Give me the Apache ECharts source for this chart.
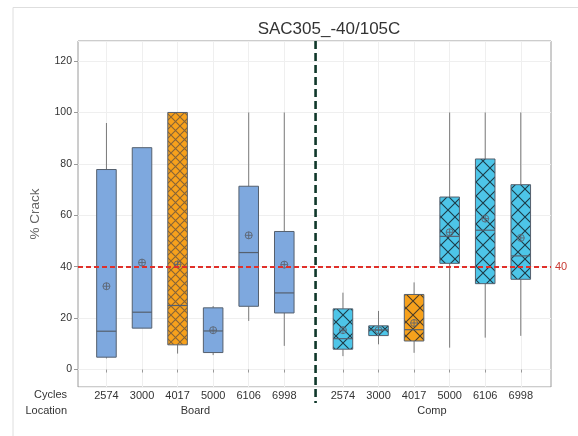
<!DOCTYPE html>
<html>
<head>
<meta charset="utf-8">
<script src="https://cdn.jsdelivr.net/npm/echarts@6/dist/echarts.min.js"></script>
<style>
  html, body { margin: 0; padding: 0; background: #fff; }
  #chart { width: 578px; height: 436px; }
</style>
</head>
<body>
<div id="chart"></div>
<script>
// values (% crack)
const cycles = ['2574', '3000', '4017', '5000', '6106', '6998'];
const locations = ['Board', 'Comp'];
const rowNames = ['Cycles', 'Location'];

const boardLow    = [4.3, 16.1, 6.2, 5.6, 18.9, 9.2];
const boardQ1     = [4.8, 16.1, 9.6, 6.6, 24.6, 22.0];
const boardMedian = [14.9, 22.3, 24.9, 15.0, 45.5, 29.8];
const boardQ3     = [77.8, 86.3, 100, 24.0, 71.3, 53.7];
const boardHigh   = [95.9, 86.3, 100, 24.7, 100, 100];
const boardMean   = [32.4, 41.6, 40.9, 15.3, 52.2, 40.8];

const compLow    = [5.2, 9.8, 6.5, 8.5, 12.4, 13.1];
const compQ1     = [7.9, 13.2, 11.1, 41.3, 33.4, 35.1];
const compMedian = [12.0, 15.4, 15.5, 51.8, 54.2, 44.2];
const compQ3     = [23.6, 17.0, 29.2, 67.1, 81.9, 71.9];
const compHigh   = [29.9, 22.8, 33.9, 100, 100, 100];
const compMean   = [15.3, 15.3, 18.1, 53.4, 58.7, 51.2];

const refLine = 40;

// x layout (axis units): board at 1..6, comp after a gap
const compStart = 7.65;
const sepX = 6.88;
const boxW = 0.55;

const boardX = cycles.map((c, i) => i + 1);
const compX = cycles.map((c, i) => compStart + i);
const allX = boardX.concat(compX);
const groupX = [(boardX[0] + boardX[5]) / 2, (compX[0] + compX[5]) / 2];

function hatch(bg, line, s) {
  const c = document.createElement('canvas');
  c.width = s; c.height = s;
  const g = c.getContext('2d');
  g.fillStyle = bg;
  g.fillRect(0, 0, s, s);
  g.strokeStyle = line;
  g.lineWidth = 1.1;
  g.beginPath();
  g.moveTo(0, 0); g.lineTo(s, s);
  g.moveTo(s, 0); g.lineTo(0, s);
  g.stroke();
  return { image: c, repeat: 'repeat' };
}

const blueFill = '#7ea8de';
const orangeBoard = hatch('#f7a11c', '#866438', 9);
const orangeComp = hatch('#f7a11c', '#4a3c28', 14);
const cyanComp = hatch('#4dc5e8', '#1d3b47', 14);

const boxes = [];
const fills = [];
cycles.forEach((c, i) => {
  boxes.push([boardX[i], boardLow[i], boardQ1[i], boardMedian[i], boardQ3[i], boardHigh[i], boardMean[i]]);
  fills.push(c === '4017' ? orangeBoard : blueFill);
});
cycles.forEach((c, i) => {
  boxes.push([compX[i], compLow[i], compQ1[i], compMedian[i], compQ3[i], compHigh[i], compMean[i]]);
  fills.push(c === '4017' ? orangeComp : cyanComp);
});

function renderBox(params, api) {
  const x = api.value(0);
  const pLo = api.coord([x, api.value(1)]);
  const pQ1 = api.coord([x, api.value(2)]);
  const pMd = api.coord([x, api.value(3)]);
  const pQ3 = api.coord([x, api.value(4)]);
  const pHi = api.coord([x, api.value(5)]);
  const pMn = api.coord([x, api.value(6)]);
  const w = api.size([boxW, 0])[0];
  const cx = pMd[0];
  const edge = '#55606e';
  const r = 3.5;
  return {
    type: 'group',
    children: [
      { type: 'line', shape: { x1: cx, y1: pLo[1], x2: cx, y2: pQ1[1] }, style: { stroke: '#7a7a7a', lineWidth: 1 } },
      { type: 'line', shape: { x1: cx, y1: pQ3[1], x2: cx, y2: pHi[1] }, style: { stroke: '#7a7a7a', lineWidth: 1 } },
      { type: 'rect', shape: { x: cx - w / 2, y: pQ3[1], width: w, height: pQ1[1] - pQ3[1] },
        style: { fill: fills[params.dataIndex], stroke: edge, lineWidth: 1 } },
      { type: 'line', shape: { x1: cx - w / 2, y1: pMd[1], x2: cx + w / 2, y2: pMd[1] }, style: { stroke: edge, lineWidth: 1.2 } },
      { type: 'circle', shape: { cx: cx, cy: pMn[1], r: r }, style: { fill: null, stroke: '#5c6470', lineWidth: 0.9 } },
      { type: 'line', shape: { x1: cx - r, y1: pMn[1], x2: cx + r, y2: pMn[1] }, style: { stroke: '#5c6470', lineWidth: 0.9 } },
      { type: 'line', shape: { x1: cx, y1: pMn[1] - r, x2: cx, y2: pMn[1] + r }, style: { stroke: '#5c6470', lineWidth: 0.9 } }
    ]
  };
}

const chart = echarts.init(document.getElementById('chart'));
const labelFont = 'Liberation Sans, Arial, sans-serif';

chart.setOption({
  animation: false,
  textStyle: { fontFamily: labelFont },
  title: {
    text: 'SAC305_-40/105C',
    left: 324,
    top: 16,
    textAlign: 'center',
    textStyle: { fontSize: 17, fontWeight: 'normal', color: '#333', fontFamily: labelFont }
  },
  graphic: [{
    type: 'rect', silent: true, z: -1,
    shape: { x: 13, y: 7.5, width: 700, height: 600 },
    style: { fill: null, stroke: '#dedede', lineWidth: 1 }
  }, {
    type: 'text', right: 578 - 67, top: 389, silent: true,
    style: { text: rowNames[0], fontSize: 11, fill: '#333', fontFamily: labelFont }
  }, {
    type: 'text', right: 578 - 67, top: 405, silent: true,
    style: { text: rowNames[1], fontSize: 11, fill: '#333', fontFamily: labelFont }
  }],
  grid: { left: 78, right: 27, top: 41, bottom: 49, show: true, borderColor: '#9a9a9a', borderWidth: 1 },
  xAxis: [{
    type: 'value', min: 0.2, max: 13.5,
    axisLine: { show: false },
    axisTick: { show: true, length: 3, customValues: allX, lineStyle: { color: '#999' } },
    axisLabel: {
      customValues: allX, fontSize: 11, color: '#333', margin: 3,
      formatter: v => cycles[allX.findIndex(p => Math.abs(p - v) < 1e-6) % 6]
    },
    splitLine: { show: true, lineStyle: { color: '#efefef', width: 1 } }
  }, {
    type: 'value', min: 0.2, max: 13.5, position: 'bottom', offset: 15,
    axisLine: { show: false },
    axisTick: { show: false },
    axisLabel: {
      customValues: groupX, fontSize: 11, color: '#333', margin: 3,
      formatter: v => locations[groupX.findIndex(p => Math.abs(p - v) < 1e-6)]
    },
    splitLine: { show: false }
  }],
  yAxis: {
    type: 'value', min: -6.8, max: 127.8, splitNumber: 7,
    name: '% Crack', nameLocation: 'middle', nameGap: 36,
    nameTextStyle: { fontSize: 13.5, color: '#666' },
    axisLine: { show: false },
    axisTick: { show: true, length: 4, lineStyle: { color: '#999' } },
    axisLabel: { fontSize: 10.5, color: '#333', margin: 6, showMinLabel: false, showMaxLabel: false },
    splitLine: { show: true, lineStyle: { color: '#efefef', width: 1 } }
  },
  series: [{
    type: 'line',
    data: [],
    markLine: {
      silent: true, symbol: 'none',
      lineStyle: { color: '#e0302a', type: [5, 3], width: 2 },
      label: { position: 'end', formatter: String(refLine), color: '#c83a33', fontSize: 11, distance: 4 },
      data: [{ yAxis: refLine }]
    }
  }, {
    type: 'custom',
    clip: false,
    data: [[sepX, 127.8, -13]],
    encode: { x: 0, y: [1, 2] },
    z: 3,
    renderItem: (params, api) => {
      const a = api.coord([api.value(0), api.value(1)]);
      const b = api.coord([api.value(0), api.value(2)]);
      return { type: 'line', shape: { x1: a[0], y1: a[1], x2: b[0], y2: b[1] },
        style: { stroke: '#10382a', lineWidth: 2.6, lineDash: [8, 4] } };
    }
  }, {
    type: 'custom',
    data: boxes,
    encode: { x: 0, y: [1, 2, 3, 4, 5] },
    z: 2,
    renderItem: renderBox
  }]
});
</script>
</body>
</html>
